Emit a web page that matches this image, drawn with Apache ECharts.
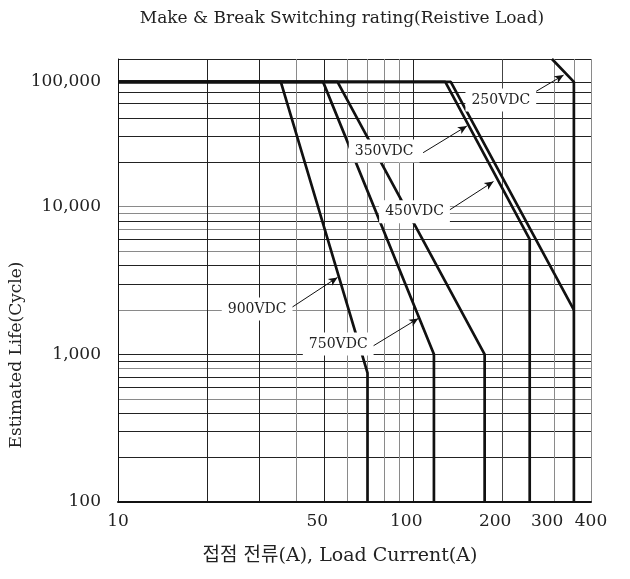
<!DOCTYPE html>
<html lang="en">
<head>
    <meta charset="UTF-8">
    <title>Make & Break Switching rating</title>
    <script src="https://cdn.jsdelivr.net/npm/echarts@6/dist/echarts.min.js"></script>
    <style>
        html,body{margin:0;height:100%;background:#fff;}
        #main{width:630px;height:579px;}
    </style>
</head>
<body>
<div id="main"></div>
<script>
    // curves: [load current (A), life (cycle)]
    // the sheet prints "100,000" on its 70,000 grid line, so the flat top of every curve sits there
    var v900 = [[10, 70000], [35.6, 70000], [70, 750], [70, 100]];
    var v750 = [[10, 70000], [49.5, 70000], [117.5, 1000], [117.5, 100]];
    var vMid = [[10, 70000], [55.4, 70000], [174.5, 1000], [174.5, 100]];
    var v450 = [[10, 70000], [128.4, 70000], [248, 6000], [248, 100]];
    var v350 = [[10, 70000], [134, 70000], [350, 2000]];
    var v250 = [[295, 100000], [350, 70000], [350, 100]];

    // tick labels
    var xLabelValues = [10, 50, 100, 200, 300, 400];
    var yLabelValues = [100, 1000, 10000, 70000];
    var yLabelText = ['100', '1,000', '10,000', '100,000'];

    // grid lines
    var xGrid = [20, 30, 40, 50, 60, 70, 80, 90, 100, 200, 300, 350, 400];
    var yGrid = [200, 300, 400, 500, 600, 700, 800, 900, 1000,
        2000, 3000, 4000, 5000, 6000, 7000, 8000, 9000, 10000,
        20000, 30000, 40000, 50000, 60000, 70000, 100000];

    // voltage notes and their arrows (in current / life)
    var noteText = ['250VDC', '350VDC', '450VDC', '900VDC', '750VDC'];
    var notePos = [[198, 52700], [79.7, 23800], [101, 9250], [29.6, 2026], [55.7, 1175]];
    var arrowFrom = [[259, 59900], [108, 23200], [130, 9250], [38.8, 2080], [72.4, 1125]];
    var arrowTo = [[323, 77800], [152, 35200], [187, 14800], [55.4, 3320], [104, 1750]];

    var serif = "'DejaVu Serif', 'Liberation Serif', 'Noto Sans CJK KR', serif";
    var ink = '#222';
    var gray = '#8a8a8a';

    var xGridColor = [ink, ink, gray, ink, gray, gray, gray, gray, ink, '#444', gray, gray, gray];
    var yGridColor = [ink, ink, ink, gray, ink, ink, gray, ink, ink,
        gray, ink, ink, gray, ink, gray, ink, gray, gray,
        ink, ink, ink, ink, ink, ink, ink];

    function curve(name, data) {
        return {
            name: name,
            type: 'line',
            data: data,
            showSymbol: false,
            symbol: 'none',
            silent: true,
            lineStyle: {color: '#111', width: 2.7},
            z: 3
        };
    }

    var myChart = echarts.init(document.getElementById('main'));

    var series = [
        curve('900VDC', v900),
        curve('750VDC', v750),
        curve('mid', vMid),
        curve('450VDC', v450),
        curve('350VDC', v350),
        curve('250VDC', v250)
    ];

    // notes + arrows hang on an empty helper series
    var marks = [];
    var lines = [];
    for (var i = 0; i < noteText.length; i++) {
        marks.push({name: noteText[i], coord: notePos[i]});
        lines.push([{coord: arrowFrom[i]}, {coord: arrowTo[i]}]);
    }
    series.push({
        name: 'notes',
        type: 'scatter',
        data: [],
        silent: true,
        markLine: {
            silent: true,
            animation: false,
            symbol: ['none', 'arrow'],
            symbolSize: [6, 9],
            label: {show: false},
            lineStyle: {color: '#111', width: 1, type: 'solid'},
            data: lines,
            z: 6
        },
        markPoint: {
            silent: true,
            animation: false,
            symbol: 'rect',
            symbolSize: 1,
            itemStyle: {color: 'rgba(0,0,0,0)'},
            label: {
                show: true,
                position: 'inside',
                formatter: '{b}',
                color: ink,
                fontFamily: serif,
                fontSize: 14,
                backgroundColor: '#fff',
                padding: [5, 6, 4, 6]
            },
            data: marks,
            z: 7
        }
    });

    var option = {
        animation: false,
        backgroundColor: '#fff',
        grid: {left: 118, right: 39, top: 59, bottom: 77},
        xAxis: {
            type: 'log',
            min: 10,
            max: 400,
            axisLine: {show: true, lineStyle: {color: '#111', width: 2}},
            axisTick: {show: false, customValues: xGrid},
            axisLabel: {
                customValues: xLabelValues,
                margin: 11,
                color: ink,
                fontFamily: serif,
                fontSize: 17,
                formatter: function (v) {
                    // the sheet sets its middle labels a little left of their lines
                    if (v > 10 && v < 400) return '{l|' + v + '}';
                    return String(v);
                },
                rich: {
                    l: {color: ink, fontFamily: serif, fontSize: 17, padding: [0, 14, 0, 0]}
                }
            },
            splitLine: {show: true, lineStyle: {color: xGridColor, width: 1}}
        },
        yAxis: {
            type: 'log',
            min: 100,
            max: 100000,
            axisLine: {show: true, lineStyle: {color: '#111', width: 1}},
            axisTick: {show: false, customValues: yGrid},
            axisLabel: {
                customValues: yLabelValues,
                margin: 17,
                color: ink,
                fontFamily: serif,
                fontSize: 17,
                formatter: function (v) {
                    var k = yLabelValues.indexOf(Math.round(v));
                    return k >= 0 ? yLabelText[k] : '';
                }
            },
            splitLine: {show: true, lineStyle: {color: yGridColor, width: 1}}
        },
        graphic: [
            {
                type: 'text', x: 342, y: 19,
                style: {text: 'Make & Break Switching rating(Reistive Load)', fill: ink,
                    font: '17px ' + serif, textAlign: 'center', textVerticalAlign: 'middle'}
            },
            {
                type: 'text', x: 340, y: 556,
                style: {text: '접점 전류(A), Load Current(A)', fill: ink,
                    font: '19px ' + serif, textAlign: 'center', textVerticalAlign: 'middle'}
            },
            {
                type: 'text', x: 17, y: 355, rotation: Math.PI / 2,
                style: {text: 'Estimated Life(Cycle)', fill: ink,
                    font: '17px ' + serif, textAlign: 'center', textVerticalAlign: 'middle'}
            }
        ],
        series: series
    };

    myChart.setOption(option);
</script>
</body>
</html>
